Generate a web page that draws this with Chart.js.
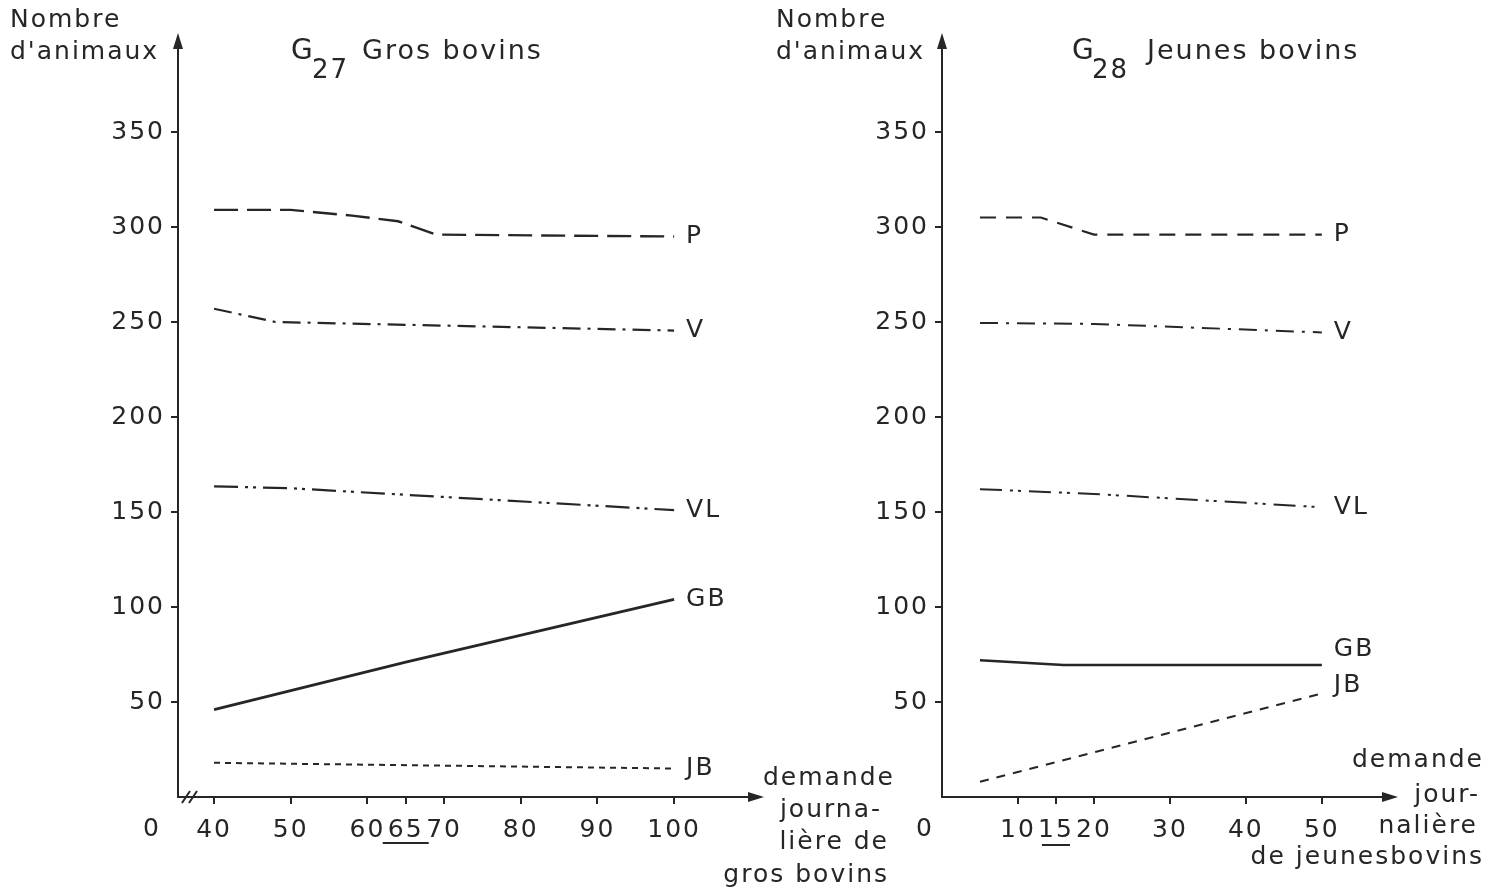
<!DOCTYPE html>
<html>
<head>
<meta charset="utf-8">
<script src="https://cdn.jsdelivr.net/npm/chart.js@4.4.1/dist/chart.umd.min.js"></script>
<style>
  html, body { margin: 0; padding: 0; background: #fff; }
  #wrap { position: relative; width: 1490px; height: 893px; overflow: hidden; }
  canvas { position: absolute; left: 0; top: 0; }
</style>
</head>
<body>
<div id="wrap">
  <canvas id="g27" width="1490" height="893"></canvas>
  <canvas id="g28" width="1490" height="893"></canvas>
</div>
<script>
// ---------- data : G27 gros bovins ----------
const g27Ticks = [40, 50, 60, 65, 70, 80, 90, 100];
const g27P_x  = [40, 50, 58, 64, 69, 100];
const g27P_y  = [309, 309, 306, 303, 296, 295];
const g27V_x  = [40, 48, 100];
const g27V_y  = [257, 250, 245.5];
const g27VL_x = [40, 50, 100];
const g27VL_y = [163.5, 162.5, 151];
const g27GB_x = [40, 65, 100];
const g27GB_y = [46, 71, 104];
const g27JB_x = [40, 100];
const g27JB_y = [18, 15];

// ---------- data : G28 jeunes bovins ----------
const g28Ticks = [10, 15, 20, 30, 40, 50];
const g28P_x  = [5, 13, 20, 50];
const g28P_y  = [305, 305, 296, 296];
const g28V_x  = [5, 20, 50];
const g28V_y  = [249.5, 249, 244.5];
const g28VL_x = [5, 20, 50];
const g28VL_y = [162, 159.5, 152.5];
const g28GB_x = [5, 16, 50];
const g28GB_y = [72, 69.5, 69.5];
const g28JB_x = [5, 50];
const g28JB_y = [8, 54.5];

const yTicks = [50, 100, 150, 200, 250, 300, 350];

const INK = "#262626";
const FAMILY = "'DejaVu Sans', sans-serif";
const FS = 25;

const pts = (xs, ys) => xs.map((x, i) => ({ x: x, y: ys[i] }));

function series(label, xs, ys, dash, width, labelDy) {
  return {
    label: label,
    data: pts(xs, ys),
    borderColor: INK,
    borderWidth: width,
    borderDash: dash,
    pointRadius: 0,
    tension: 0,
    fill: false,
    labelDy: labelDy || 0
  };
}

// draws arrows, titles, line names and the other bits of text
function makeDecor(cfg) {
  return {
    id: "decor",
    beforeDraw(chart) {
      chart.ctx.letterSpacing = "2px";
    },
    afterDraw(chart) {
      const ctx = chart.ctx;
      const ca = chart.chartArea;
      const sx = chart.scales.x, sy = chart.scales.y;
      ctx.save();
      ctx.fillStyle = INK;
      ctx.strokeStyle = INK;
      ctx.lineWidth = 2;

      // arrow heads
      ctx.beginPath();
      ctx.moveTo(ca.left, ca.top - 4);
      ctx.lineTo(ca.left - 5, ca.top + 12);
      ctx.lineTo(ca.left + 5, ca.top + 12);
      ctx.closePath();
      ctx.fill();
      ctx.beginPath();
      ctx.moveTo(ca.right + 4, ca.bottom);
      ctx.lineTo(ca.right - 12, ca.bottom - 5);
      ctx.lineTo(ca.right - 12, ca.bottom + 5);
      ctx.closePath();
      ctx.fill();

      // axis break
      if (cfg.brk) {
        cfg.brk.forEach(bx => {
          ctx.beginPath();
          ctx.moveTo(bx - 4, ca.bottom + 6);
          ctx.lineTo(bx + 4, ca.bottom - 6);
          ctx.stroke();
        });
      }

      // texts
      ctx.textBaseline = "middle";
      cfg.texts.forEach(t => {
        ctx.font = (t.size || FS) + "px " + FAMILY;
        ctx.textAlign = t.align || "left";
        ctx.fillText(t.s, t.x, t.y);
      });

      // names at the end of each line
      ctx.font = FS + "px " + FAMILY;
      ctx.textAlign = "left";
      chart.data.datasets.forEach(ds => {
        const last = ds.data[ds.data.length - 1];
        ctx.fillText(ds.label, sx.getPixelForValue(last.x) + 12,
                     sy.getPixelForValue(last.y) + ds.labelDy);
      });

      // underlined tick
      if (cfg.under) {
        const ux = sx.getPixelForValue(cfg.under.v);
        ctx.beginPath();
        ctx.moveTo(ux - cfg.under.half, cfg.under.y);
        ctx.lineTo(ux + cfg.under.half, cfg.under.y);
        ctx.stroke();
      }
      ctx.restore();
    }
  };
}

function makeChart(id, opt) {
  return new Chart(document.getElementById(id), {
    type: "line",
    data: { datasets: opt.datasets },
    plugins: [makeDecor(opt.decor)],
    options: {
      responsive: false,
      animation: false,
      layout: { padding: opt.padding },
      plugins: { legend: { display: false }, tooltip: { enabled: false } },
      scales: {
        x: {
          type: "linear",
          min: opt.xMin,
          max: opt.xMax,
          afterFit: s => { s.height = 96; },
          afterBuildTicks: s => { s.ticks = opt.xTicks.map(v => ({ value: v })); },
          border: { display: true, color: INK, width: 2 },
          grid: { drawOnChartArea: false, drawTicks: true, tickLength: 7, color: INK, lineWidth: 2 },
          ticks: {
            autoSkip: false, maxRotation: 0, padding: 11, color: INK,
            font: { family: FAMILY, size: FS }
          }
        },
        y: {
          type: "linear",
          min: 0,
          max: 400,
          afterFit: s => { s.width = opt.yWidth; },
          afterBuildTicks: s => { s.ticks = yTicks.map(v => ({ value: v })); },
          border: { display: true, color: INK, width: 2 },
          grid: { drawOnChartArea: false, drawTicks: true, tickLength: 7, color: INK, lineWidth: 2 },
          ticks: {
            padding: 6, color: INK,
            font: { family: FAMILY, size: FS }
          }
        }
      }
    }
  });
}

makeChart("g27", {
  padding: { left: 0, right: 730, top: 37, bottom: 0 },
  yWidth: 178,
  xMin: 35.3,
  xMax: 111.2,
  xTicks: g27Ticks,
  datasets: [
    series("P", g27P_x, g27P_y, [24, 9], 2.4),
    series("V", g27V_x, g27V_y, [18, 7, 3, 7], 2.2),
    series("VL", g27VL_x, g27VL_y, [24, 7, 3, 5, 3, 7], 2.2),
    series("GB", g27GB_x, g27GB_y, [], 2.8),
    series("JB", g27JB_x, g27JB_y, [6, 5], 2)
  ],
  decor: {
    brk: [186, 193],
    under: { v: 65, half: 23, y: 843 },
    texts: [
      { s: "Nombre", x: 10, y: 20 },
      { s: "d'animaux", x: 10, y: 52 },
      { s: "G", x: 291, y: 52, size: 28 },
      { s: "27", x: 312, y: 71, size: 26 },
      { s: "Gros bovins", x: 362, y: 52, size: 27 },
      { s: "0", x: 152, y: 829, align: "center" },
      { s: "demande", x: 895, y: 778, align: "right" },
      { s: "journa-", x: 882, y: 810, align: "right" },
      { s: "lière de", x: 889, y: 842, align: "right" },
      { s: "gros bovins", x: 889, y: 875, align: "right" }
    ]
  }
});

makeChart("g28", {
  padding: { left: 870, right: 96, top: 37, bottom: 0 },
  yWidth: 72,
  xMin: 0,
  xMax: 59.5,
  xTicks: g28Ticks,
  datasets: [
    series("P", g28P_x, g28P_y, [16, 10], 2.2),
    series("V", g28V_x, g28V_y, [18, 8, 3, 8], 2),
    series("VL", g28VL_x, g28VL_y, [22, 8, 3, 5, 3, 8], 2),
    series("GB", g28GB_x, g28GB_y, [], 2.6, -15),
    series("JB", g28JB_x, g28JB_y, [9, 8], 2, -8)
  ],
  decor: {
    under: { v: 15, half: 14, y: 845 },
    texts: [
      { s: "Nombre", x: 776, y: 20 },
      { s: "d'animaux", x: 776, y: 52 },
      { s: "G", x: 1072, y: 52, size: 28 },
      { s: "28", x: 1092, y: 71, size: 26 },
      { s: "Jeunes bovins", x: 1147, y: 52, size: 27 },
      { s: "0", x: 925, y: 829, align: "center" },
      { s: "demande", x: 1484, y: 760, align: "right" },
      { s: "jour-", x: 1480, y: 795, align: "right" },
      { s: "nalière", x: 1478, y: 826, align: "right" },
      { s: "de jeunesbovins", x: 1484, y: 857, align: "right" }
    ]
  }
});
</script>
</body>
</html>
